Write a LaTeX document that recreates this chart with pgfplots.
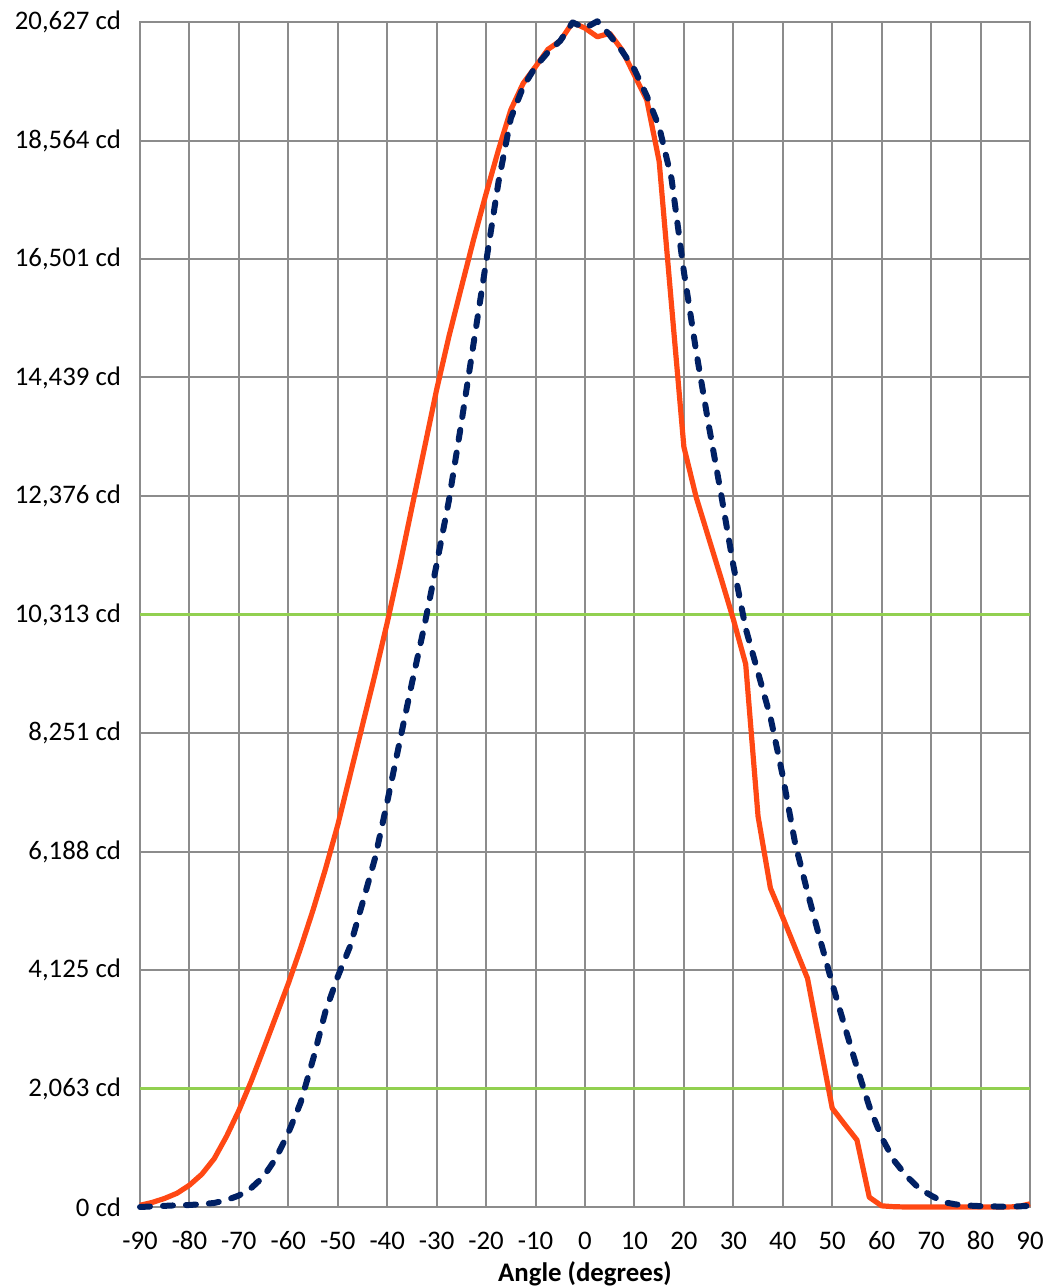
\documentclass[border=0pt]{standalone}
\usepackage{fontspec}
\setmainfont{Carlito}
\usepackage{pgfplots}
\usepackage{pgfplotstable}
\pgfplotsset{compat=1.18}

\definecolor{beamorange}{RGB}{255,72,20}
\definecolor{beamnavy}{RGB}{0,32,100}
\definecolor{limgreen}{RGB}{146,208,80}
\definecolor{gridgray}{RGB}{140,140,140}

% measured beam (solid)
\pgfplotstableread{
x y
-90 30
-87.5 80
-85 150
-82.5 240
-80 380
-77.5 570
-75 840
-72.5 1230
-70 1680
-67.5 2190
-65 2750
-62.5 3320
-60 3890
-57.5 4510
-55 5170
-52.5 5880
-50 6650
-47.5 7520
-45 8390
-42.5 9260
-40 10170
-37.5 11150
-35 12180
-32.5 13200
-30 14230
-27.5 15160
-25 16010
-22.5 16850
-20 17640
-17.5 18400
-15 19100
-12.5 19560
-10 19850
-7.5 20150
-5 20300
-2.5 20620
0 20520
2.5 20370
5 20430
7.5 20140
10 19700
12.5 19270
15 18200
17.5 15700
20 13230
22.5 12350
25 11650
27.5 10950
30 10230
32.5 9450
35 6800
37.5 5550
40 5040
42.5 4510
45 3980
47.5 2850
50 1720
52.5 1440
55 1166
57.5 170
60 20
62.5 5
65 0
70 0
75 0
80 0
85 0
87.5 5
90 55
}\solidtab

% reference beam (dashed)
\pgfplotstableread{
x y
-90 0
-87.5 10
-85 20
-82.5 30
-80 35
-77.5 50
-75 70
-72.5 120
-70 200
-67.5 330
-65 530
-62.5 850
-60 1290
-57.5 1820
-55 2570
-52.5 3400
-50 4010
-47.5 4540
-45 5290
-42.5 6060
-40 7050
-37.5 8090
-35 9120
-32.5 10110
-30 11190
-27.5 12310
-25 13650
-22.5 15050
-20 16450
-17.5 17840
-15 18950
-12.5 19500
-10 19850
-7.5 20100
-5 20300
-2.5 20620
0 20520
2.5 20640
5 20400
7.5 20120
10 19800
12.5 19340
15 18800
17.5 17900
20 16280
22.5 14885
25 13620
27.5 12420
30 11170
32.5 10070
35 9300
37.5 8530
40 7500
42.5 6330
45 5480
47.5 4670
50 3890
52.5 3150
55 2430
57.5 1750
60 1210
62.5 810
65 540
67.5 330
70 200
72.5 85
75 45
77.5 25
80 15
82.5 10
85 5
87.5 10
90 20
}\dashedtab

\begin{document}
\begin{tikzpicture}
\begin{axis}[
  scale only axis,
  width=445pt, height=592.5pt,
  xmin=-90, xmax=90, ymin=0, ymax=20627,
  clip=false,
  axis line style={gridgray, line width=1pt},
  grid=major,
  major grid style={gridgray, line width=1pt},
  major tick length=0pt,
  xtick={-90,-80,...,90},
  xticklabels={-90,-80,-70,-60,-50,-40,-30,-20,-10,0,10,20,30,40,50,60,70,80,90},
  ytick={0,2063,4125,6188,8251,10313,12376,14439,16501,18564,20627},
  yticklabels={{0 cd},{2,063 cd},{4,125 cd},{6,188 cd},{8,251 cd},{10,313 cd},{12,376 cd},{14,439 cd},{16,501 cd},{18,564 cd},{20,627 cd}},
  scaled y ticks=false,
  /pgf/number format/assume math mode=true,
  tick label style={font=\fontsize{13.4}{15}\selectfont},
  xticklabel style={text height=1.6ex, text depth=0.3ex, yshift=-10pt},
  yticklabel style={xshift=-6pt},
  xlabel={\textbf{Angle (degrees)}},
  xlabel style={font=\fontsize{13.4}{15}\selectfont, yshift=2pt},
]
\addplot[limgreen, line width=1.6pt] coordinates {(-90,10313) (90,10313)};
\addplot[limgreen, line width=1.6pt] coordinates {(-90,2063) (90,2063)};
\addplot[beamorange, line width=2.6pt, line join=round] table[x=x,y=y] {\solidtab};
\addplot[beamnavy, line width=3pt, line cap=round, line join=round,
  dash pattern=on 5pt off 6.5pt] table[x=x,y=y] {\dashedtab};
\end{axis}
\pgfresetboundingbox
\path[use as bounding box] (-70pt,-40pt) rectangle (453pt,603.5pt);
\end{tikzpicture}
\end{document}
